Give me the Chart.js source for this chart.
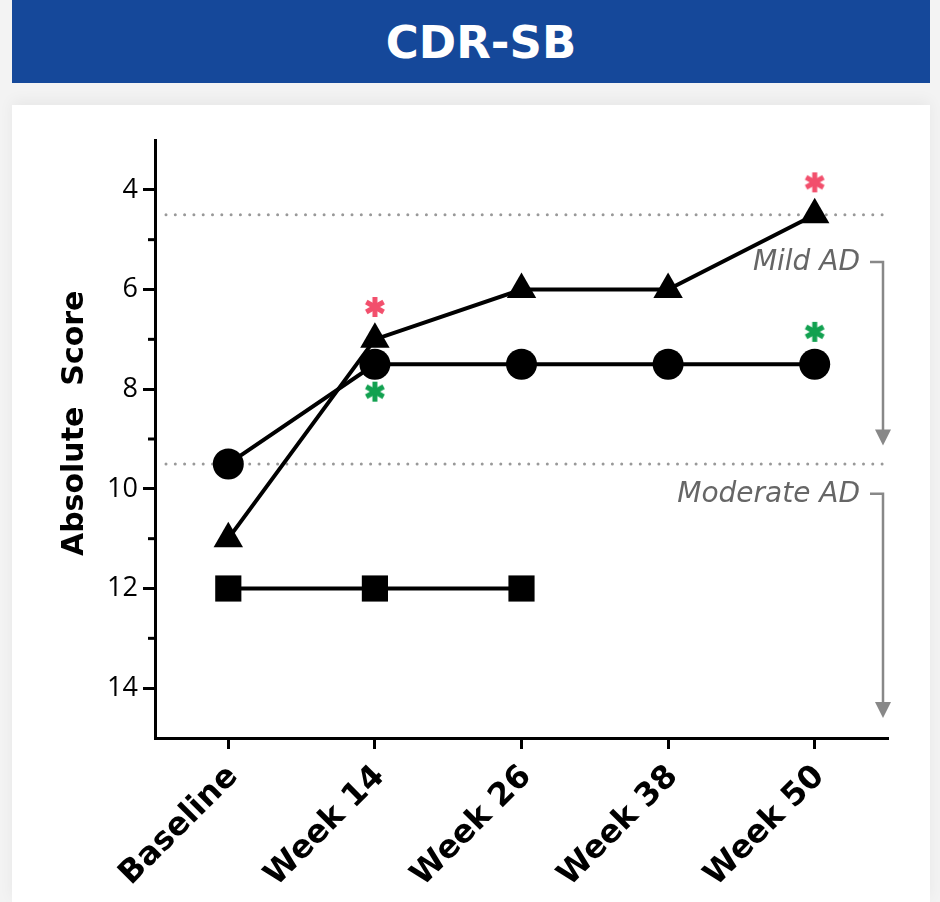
<!DOCTYPE html>
<html lang="en">
<head>
  <meta charset="UTF-8">
  <title>CDR-SB</title>
  <style>
    html, body {
      margin: 0;
      padding: 0;
      width: 940px;
      height: 902px;
      background: #f3f3f3;
      overflow: hidden;
    }
    .header {
      position: absolute;
      left: 12px;
      top: 0;
      width: 898px;
      padding-left: 20px;
      height: 83px;
      background: #15489a;
      color: #fff;
      font-family: "DejaVu Sans", sans-serif;
      font-weight: bold;
      font-size: 45px;
      line-height: 85px;
      text-align: center;
    }
    .card {
      position: absolute;
      left: 12px;
      top: 105px;
      width: 918px;
      height: 797px;
      background: #fff;
      box-shadow: 0 -4px 14px rgba(0,0,0,0.05);
    }
  </style>
</head>
<body>

  <div class="header">CDR-SB</div>
  <div class="card">
    <canvas id="myChart" width="918" height="797"></canvas>
  </div>

  <script src="https://cdn.jsdelivr.net/npm/chart.js"></script>
  <script>
    // datos
    var labels = ['Baseline', 'Week 14', 'Week 26', 'Week 38', 'Week 50'];
    var triangleSeries = [11, 7, 6, 6, 4.5];
    var circleSeries = [9.5, 7.5, 7.5, 7.5, 7.5];
    var squareSeries = [12, 12, 12, null, null];
    var redStars = [null, 6.35, null, null, 3.85];
    var greenStars = [null, 8.05, null, null, 6.85];
    var yTicks = [4, 6, 8, 10, 12, 14];
    var cutoffs = [4.5, 9.5];
    // etiquetas de rango: texto, inicio y punta de la flecha (en unidades del eje)
    var zoneLabels = ['Mild AD', 'Moderate AD'];
    var zoneStart = [5.45, 10.1];
    var zoneEnd = [9.13, 14.6];

    // asterisco de 6 brazos como imagen de punto
    function asterisk(color) {
      var c = document.createElement('canvas');
      c.width = 24; c.height = 24;
      var g = c.getContext('2d');
      g.strokeStyle = color;
      g.lineWidth = 5;
      g.translate(12, 12);
      for (var i = 0; i < 3; i++) {
        g.beginPath();
        g.moveTo(0, -10);
        g.lineTo(0, 10);
        g.stroke();
        g.rotate(Math.PI / 3);
      }
      return c;
    }

    // marcas menores y lineas punteadas / flechas
    var extras = {
      id: 'extras',
      beforeDatasetsDraw: function(chart) {
        var ctx = chart.ctx, y = chart.scales.y, a = chart.chartArea;
        ctx.save();
        ctx.strokeStyle = '#999';
        ctx.lineWidth = 3;
        ctx.lineCap = 'round';
        ctx.setLineDash([0, 9.3]);
        cutoffs.forEach(function(v) {
          var py = y.getPixelForValue(v);
          ctx.beginPath();
          ctx.moveTo(a.left + 11, py);
          ctx.lineTo(a.right - 4, py);
          ctx.stroke();
        });
        ctx.restore();
      },
      afterDraw: function(chart) {
        var ctx = chart.ctx, y = chart.scales.y, a = chart.chartArea;
        ctx.save();
        // minor ticks
        ctx.strokeStyle = '#000';
        ctx.lineWidth = 3;
        for (var v = 5; v <= 13; v += 2) {
          var py = y.getPixelForValue(v);
          ctx.beginPath();
          ctx.moveTo(a.left - 7, py);
          ctx.lineTo(a.left, py);
          ctx.stroke();
        }
        // zone brackets
        var bx = a.right - 5;
        ctx.font = 'italic 28px "DejaVu Sans", sans-serif';
        ctx.textAlign = 'right';
        ctx.textBaseline = 'middle';
        zoneLabels.forEach(function(t, i) {
          var y0 = y.getPixelForValue(zoneStart[i]);
          var y1 = y.getPixelForValue(zoneEnd[i]);
          ctx.fillStyle = '#666';
          ctx.fillText(t, a.right - 28, y0 + 1);
          ctx.strokeStyle = '#888';
          ctx.lineWidth = 2.5;
          ctx.beginPath();
          ctx.moveTo(a.right - 18, y0);
          ctx.lineTo(bx, y0);
          ctx.lineTo(bx, y1 - 12);
          ctx.stroke();
          ctx.fillStyle = '#888';
          ctx.beginPath();
          ctx.moveTo(bx - 8, y1 - 16);
          ctx.lineTo(bx + 8, y1 - 16);
          ctx.lineTo(bx, y1);
          ctx.closePath();
          ctx.fill();
        });
        ctx.restore();
      }
    };

    var ctx = document.getElementById('myChart').getContext('2d');
    var myChart = new Chart(ctx, {
      type: 'line',
      data: {
        labels: labels,
        datasets: [
          {
            data: redStars,
            showLine: false,
            pointStyle: asterisk('#f24f6c'),
            pointRadius: 10
          },
          {
            data: greenStars,
            showLine: false,
            pointStyle: asterisk('#12a150'),
            pointRadius: 10
          },
          {
            data: triangleSeries,
            borderColor: '#000',
            backgroundColor: '#000',
            borderWidth: 4,
            pointStyle: 'triangle',
            pointRadius: 17,
            pointBorderWidth: 0
          },
          {
            data: circleSeries,
            borderColor: '#000',
            backgroundColor: '#000',
            borderWidth: 4,
            pointStyle: 'circle',
            pointRadius: 15.5,
            pointBorderWidth: 0
          },
          {
            data: squareSeries,
            borderColor: '#000',
            backgroundColor: '#000',
            borderWidth: 4,
            pointStyle: 'rect',
            pointRadius: 18.5,
            pointBorderWidth: 0
          }
        ]
      },
      options: {
        responsive: false,
        animation: false,
        clip: false,
        layout: { padding: { top: 35, right: 42, left: 0, bottom: 0 } },
        plugins: {
          legend: { display: false },
          tooltip: { enabled: false }
        },
        scales: {
          x: {
            offset: true,
            afterFit: function(s) { s.height = 164; },
            border: { color: '#000', width: 3 },
            grid: { offset: false, drawOnChartArea: false, tickLength: 11, tickWidth: 3, tickColor: '#000' },
            ticks: {
              color: '#000',
              minRotation: 45,
              maxRotation: 45,
              padding: 9,
              labelOffset: 5,
              font: { family: '"DejaVu Sans"', size: 32, weight: 'bold' }
            }
          },
          y: {
            reverse: true,
            min: 3,
            max: 15,
            afterFit: function(s) { s.width = 143; },
            afterBuildTicks: function(s) {
              s.ticks = yTicks.map(function(v) { return { value: v }; });
            },
            border: { color: '#000', width: 3 },
            grid: { drawOnChartArea: false, tickLength: 12, tickWidth: 3, tickColor: '#000' },
            title: {
              display: true,
              text: '   Absolute  Score',
              color: '#000',
              padding: { top: 45, bottom: 0 },
              font: { family: '"DejaVu Sans"', size: 30, weight: 'bold' }
            },
            ticks: {
              color: '#000',
              padding: 5,
              font: { family: '"Open Sans"', size: 27 }
            }
          }
        }
      },
      plugins: [extras]
    });
  </script>

</body>
</html>
